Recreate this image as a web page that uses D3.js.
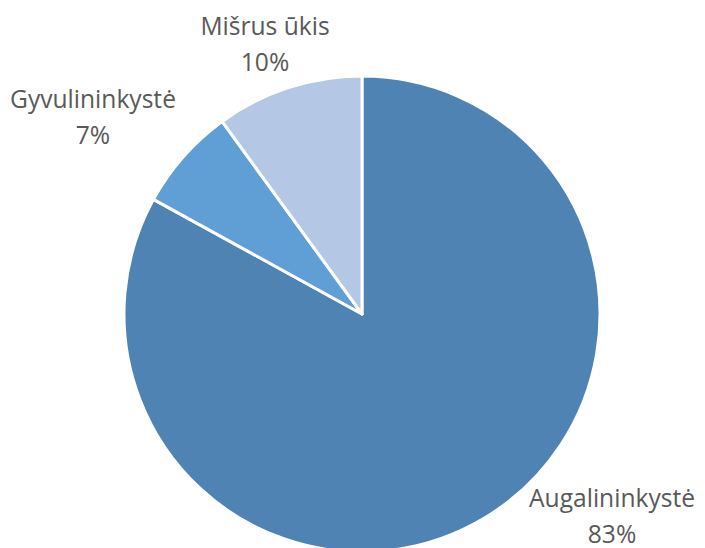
<!DOCTYPE html>
<html><head><meta charset="utf-8">
<script src="https://cdn.jsdelivr.net/npm/d3@7"></script>
<style>body{margin:0;background:#fff;} svg{display:block;}</style>
</head><body>
<svg id="chart" width="705" height="548"></svg>
<script>
const categories = ["Augalininkystė", "Gyvulininkystė", "Mišrus ūkis"];
const values = [83, 7, 10];
const colors = ["#4f83b3", "#5f9fd6", "#b4c8e6"];

const svg = d3.select("#chart");
const cx = 362, cy = 314, R = 238;
const g = svg.append("g").attr("transform", `translate(${cx},${cy})`);

const pie = d3.pie().sort(null).value(d => d.v);
const data = categories.map((c, i) => ({c, v: values[i], col: colors[i]}));
const arcs = pie(data);
const arc = d3.arc().innerRadius(0).outerRadius(R);

g.selectAll("path").data(arcs).join("path")
  .attr("d", arc)
  .attr("fill", d => d.data.col)
  .attr("stroke", "#fff")
  .attr("stroke-width", 3)
  .attr("stroke-linejoin", "round");

// label anchor positions (first-line baseline, relative to pie center)
const labelPos = [[250, 193], [-269, -206], [-97, -279]];
const total = d3.sum(values);
const lab = g.selectAll("text.lbl").data(arcs).join("text")
  .attr("class", "lbl")
  .attr("text-anchor", "middle")
  .attr("font-family", "'Open Sans', sans-serif")
  .attr("font-size", 24.6)
  .attr("fill", "#595959")
  .attr("transform", (d, i) => `translate(${labelPos[i][0]},${labelPos[i][1]})`);
lab.append("tspan").attr("x", 0).attr("y", 0).text(d => d.data.c);
lab.append("tspan").attr("x", 0).attr("y", 36).text(d => Math.round(d.data.v / total * 100) + "%");
</script>
</body></html>
